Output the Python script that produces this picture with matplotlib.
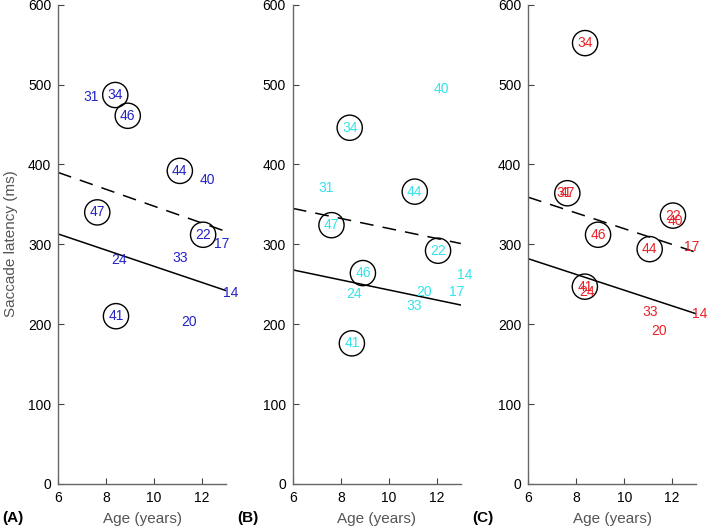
import matplotlib.pyplot as plt

plt.rcParams['font.family'] = ['Liberation Sans', 'DejaVu Sans']

# Panel A (blue)
a_ids = [31, 34, 46, 44, 40, 47, 22, 17, 24, 33, 14, 41, 20]
a_age = [7.37, 8.38, 8.90, 11.07, 12.20, 7.63, 12.04, 12.83, 8.54, 11.07, 13.18, 8.41, 11.46]
a_lat = [485, 487, 461, 392, 380, 340, 312, 300, 281, 283, 239, 210, 203]
a_circ = [False, True, True, True, False, True, True, False, False, False, False, True, False]

# Panel B (cyan)
b_ids = [40, 34, 31, 44, 47, 22, 46, 14, 24, 20, 17, 33, 41]
b_age = [12.20, 8.37, 7.38, 11.08, 7.61, 12.05, 8.92, 13.16, 8.55, 11.48, 12.82, 11.05, 8.46]
b_lat = [494, 446, 370, 366, 324, 292, 264, 261, 238, 240, 240, 223, 176]
b_circ = [False, True, False, True, True, True, True, False, False, False, False, False, True]

# Panel C (red)
c_ids = [34, 31, 47, 46, 22, 40, 44, 17, 41, 24, 33, 14, 20]
c_age = [8.37, 7.48, 7.63, 8.91, 12.03, 12.12, 11.06, 12.82, 8.36, 8.45, 11.06, 13.14, 11.45]
c_lat = [552, 364, 364, 312, 336, 329, 294, 297, 247, 240, 215, 213, 192]
c_circ = [True, False, True, True, True, False, True, False, True, False, False, False, False]

# regression lines, evaluated at the ends of the age range
fit_age = [6, 13]
a_solid = [313, 242]
a_dash = [390, 316]
b_solid = [268, 224]
b_dash = [345, 301]
c_solid = [282, 213]
c_dash = [359, 290]

panels = [
    ('(A)', a_ids, a_age, a_lat, a_circ, a_solid, a_dash, '#2323c4'),
    ('(B)', b_ids, b_age, b_lat, b_circ, b_solid, b_dash, '#33e3ea'),
    ('(C)', c_ids, c_age, c_lat, c_circ, c_solid, c_dash, '#e82228'),
]


def main():
    fig = plt.figure(figsize=(7.09, 5.30), dpi=100)
    lefts = [0.082, 0.413, 0.745]

    for left, (tag, ids, age, lat, circ, solid, dash, col) in zip(lefts, panels):
        ax = fig.add_axes([left, 0.087, 0.237, 0.904])

        # Regression lines
        ax.plot(fit_age, solid, color='k', lw=1.1)
        ax.plot(fit_age, dash, color='k', lw=1.1, dashes=(9, 6))

        # Circles around selected subjects
        cx = [x for x, c in zip(age, circ) if c]
        cy = [y for y, c in zip(lat, circ) if c]
        ax.scatter(cx, cy, s=330, facecolors='none', edgecolors='k',
                   linewidths=1.0, zorder=3)

        # Subject numbers
        for n, x, y in zip(ids, age, lat):
            ax.text(x, y, str(n), color=col, fontsize=10, ha='center',
                    va='center', zorder=4)

        ax.set_xlim(6, 13)
        ax.set_ylim(0, 600)
        ax.set_xticks([6, 8, 10, 12])
        ax.set_yticks([0, 100, 200, 300, 400, 500, 600])
        ax.tick_params(direction='in', labelsize=10, length=4,
                       color='#444444', pad=5)
        ax.spines['top'].set_visible(False)
        ax.spines['right'].set_visible(False)
        for s in ['left', 'bottom']:
            ax.spines[s].set_color('#666666')
            ax.spines[s].set_linewidth(1.0)

        ax.set_xlabel('Age (years)', fontsize=11, color='#555555', labelpad=5)
        fig.text(left - 0.079, 0.022, tag, fontsize=11, fontweight='bold',
                 ha='left', va='center')

    fig.text(0.016, 0.54, 'Saccade latency (ms)', rotation=90, fontsize=11,
             color='#555555', ha='center', va='center')

    fig.savefig('out.png', dpi=100)
    plt.close()


if __name__ == "__main__":
    main()
